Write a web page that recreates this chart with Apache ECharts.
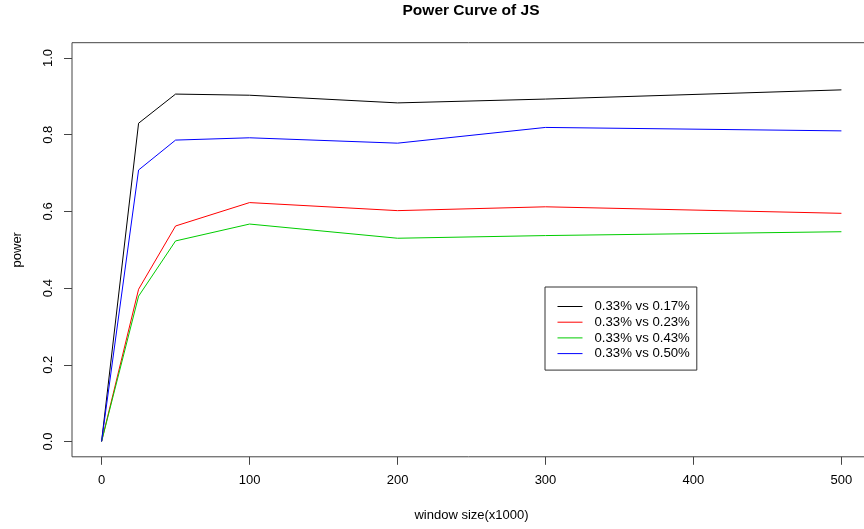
<!DOCTYPE html>
<html>
<head>
<meta charset="utf-8">
<script src="https://cdn.jsdelivr.net/npm/echarts@6/dist/echarts.min.js"></script>
<style>
html,body{margin:0;padding:0;background:#fff;}
#chart{width:864px;height:529px;}
</style>
</head>
<body>
<div id="chart"></div>
<script>
// window size (x1000)
var windowSizes = [0, 25, 50, 100, 200, 300, 500];
// power values per comparison
var power017 = [0, 0.830, 0.906, 0.903, 0.883, 0.893, 0.917];
var power023 = [0, 0.397, 0.562, 0.623, 0.602, 0.612, 0.595];
var power043 = [0, 0.379, 0.523, 0.567, 0.530, 0.537, 0.547];
var power050 = [0, 0.708, 0.786, 0.792, 0.778, 0.819, 0.810];
var seriesNames = ['0.33% vs 0.17%', '0.33% vs 0.23%', '0.33% vs 0.43%', '0.33% vs 0.50%'];
var xTicks = [0, 100, 200, 300, 400, 500];
var yTicks = [0, 0.2, 0.4, 0.6, 0.8, 1.0];

function pairs(xs, ys) { return xs.map(function (x, i) { return [x, ys[i]]; }); }

var FONT = 'Liberation Sans';
var chart = echarts.init(document.getElementById('chart'), null, { renderer: 'canvas' });
var colors = ['#000000', '#FF0000', '#00CD00', '#0000FF'];
var datas = [power017, power023, power043, power050];

chart.setOption({
  animation: false,
  backgroundColor: '#ffffff',
  color: colors,
  title: {
    text: 'Power Curve of JS',
    left: 471, top: 3, textAlign: 'center', padding: 0,
    textStyle: { fontFamily: FONT, fontSize: 15.5, fontWeight: 'bold', color: '#000' }
  },
  legend: {
    orient: 'vertical',
    left: 545, top: 287,
    padding: [13, 7, 10, 12],
    borderColor: '#333', borderWidth: 1,
    itemWidth: 25, itemHeight: 14, itemGap: 2.7,
    data: seriesNames.map(function (n, i) {
      return { name: n, lineStyle: { color: colors[i], width: 1 }, itemStyle: { color: colors[i], opacity: 0, borderWidth: 0 } };
    }),
    itemStyle: { opacity: 0, borderWidth: 0 },
    lineStyle: { width: 1 },
    textStyle: { fontFamily: FONT, fontSize: 13.2, color: '#000', padding: [0, 0, 0, 7] }
  },
  grid: {
    left: 72, top: 42.7, width: 799, height: 414.1,
    outerBoundsMode: 'none', containLabel: false,
    show: true, borderColor: '#444', borderWidth: 1, backgroundColor: 'transparent'
  },
  xAxis: {
    type: 'value', min: -20, max: 520,
    name: 'window size(x1000)', nameLocation: 'middle', nameGap: 52,
    nameTextStyle: { fontFamily: FONT, fontSize: 13, color: '#000' },
    axisLine: { show: false, onZero: false },
    axisTick: { show: true, length: 8, customValues: xTicks, lineStyle: { color: '#444' } },
    axisLabel: { customValues: xTicks, margin: 17, fontFamily: FONT, fontSize: 13, color: '#000' },
    splitLine: { show: false }
  },
  yAxis: {
    type: 'value', min: -0.04, max: 1.04,
    name: 'power', nameLocation: 'middle', nameGap: 48, nameRotate: 90,
    nameTextStyle: { fontFamily: FONT, fontSize: 13, color: '#000' },
    axisLine: { show: false, onZero: false },
    axisTick: { show: true, length: 8, customValues: yTicks, lineStyle: { color: '#444' } },
    axisLabel: {
      customValues: yTicks, rotate: 90, margin: 17,
      fontFamily: FONT, fontSize: 13, color: '#000',
      formatter: function (v) { return v.toFixed(1); }
    },
    splitLine: { show: false }
  },
  series: seriesNames.map(function (n, i) {
    return {
      name: n, type: 'line', symbol: 'none',
      data: pairs(windowSizes, datas[i]),
      lineStyle: { width: 1, color: colors[i] },
      itemStyle: { color: colors[i] }
    };
  })
});
</script>
</body>
</html>
